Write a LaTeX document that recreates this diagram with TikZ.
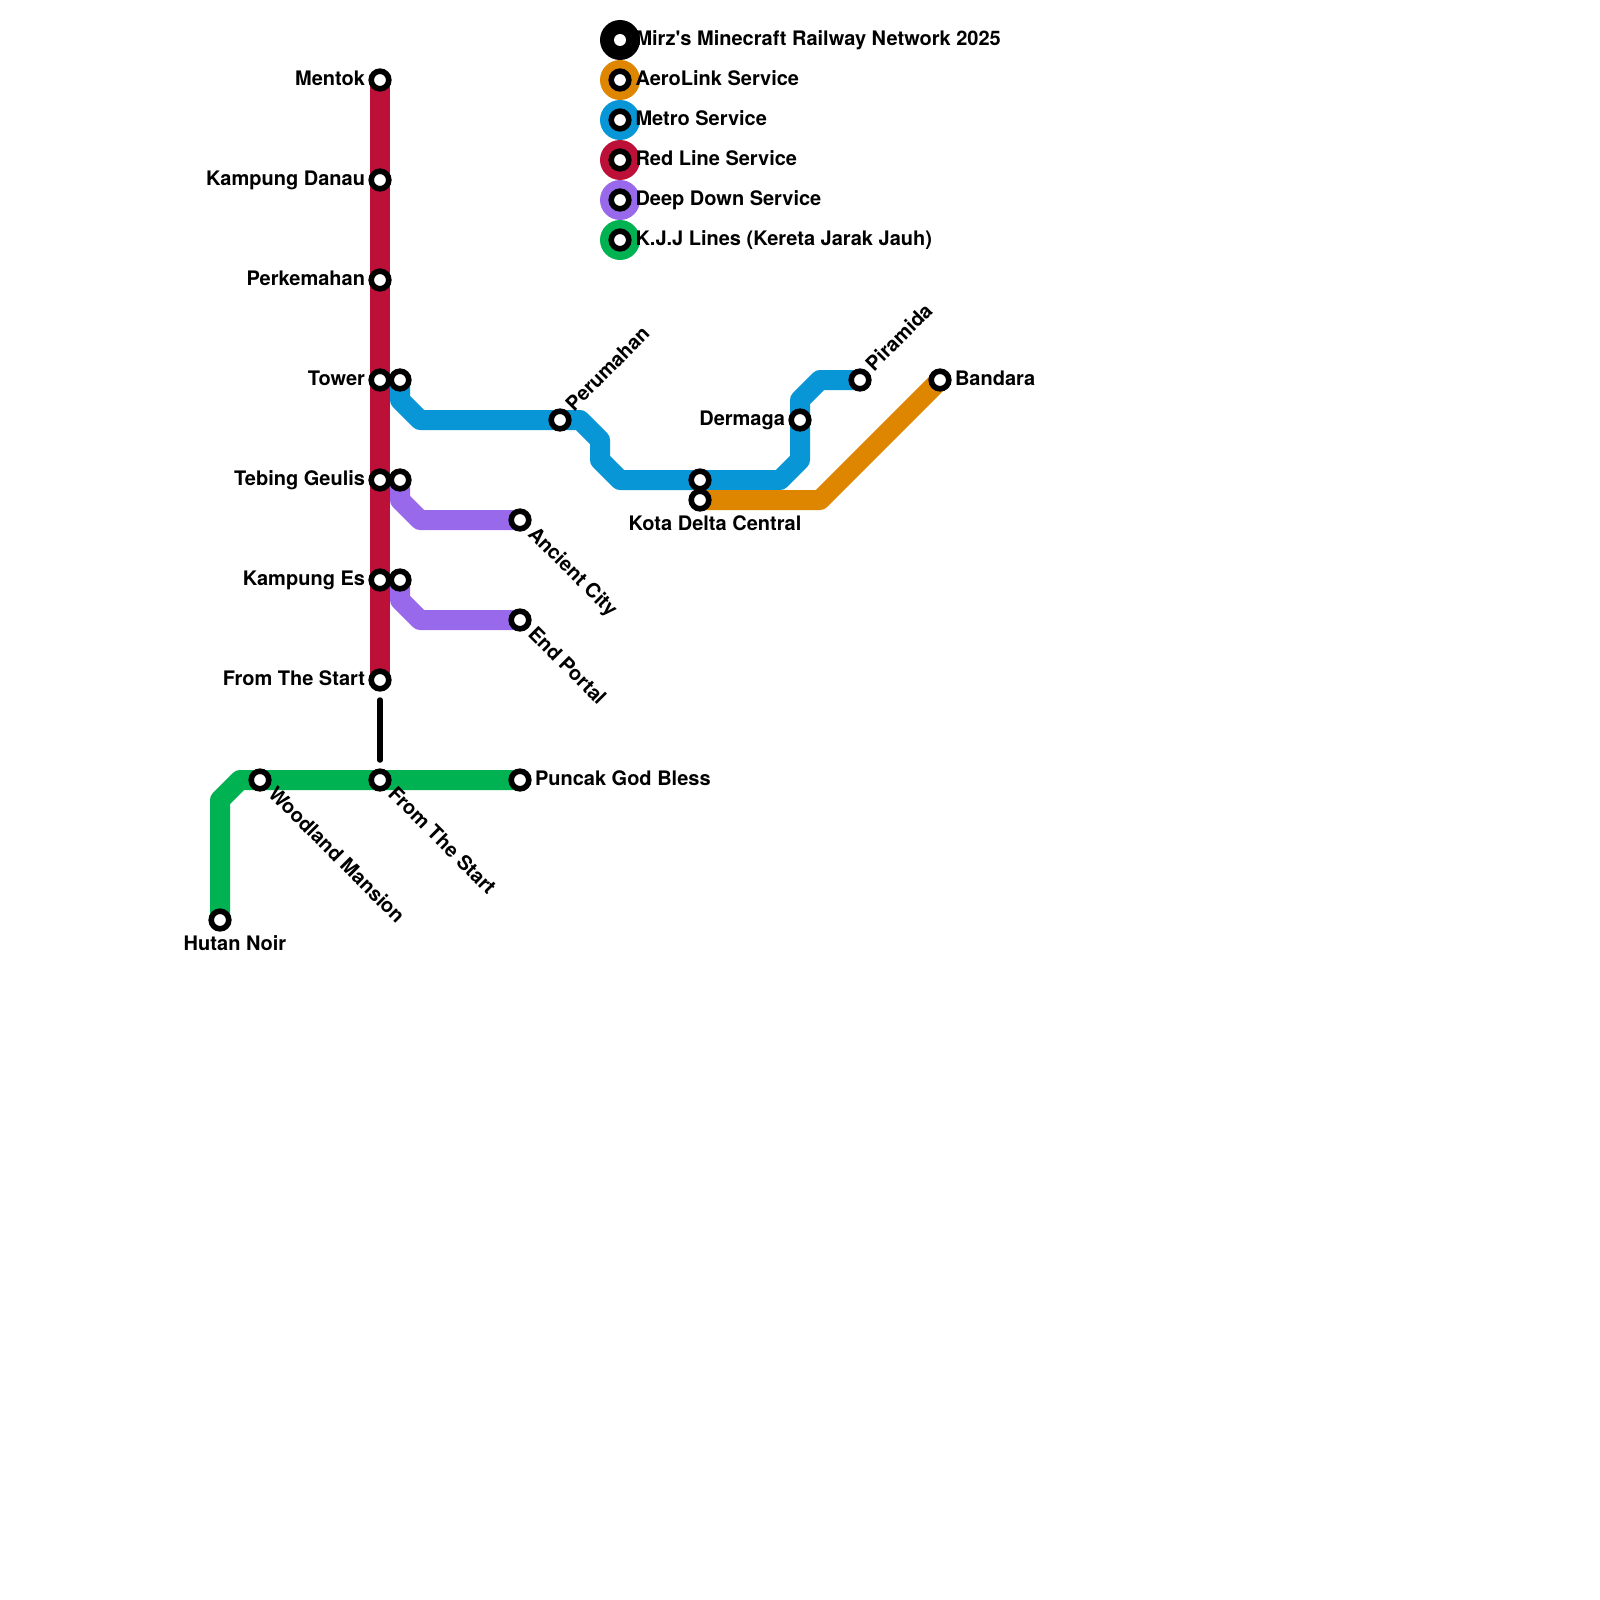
\documentclass[tikz,border=0pt]{standalone}
\usepackage{fontspec}
\newfontfamily\hv{TeX Gyre Heros}
\usetikzlibrary{backgrounds}
\definecolor{cred}{HTML}{BD1038}
\definecolor{cblue}{HTML}{0896D7}
\definecolor{corange}{HTML}{DF8600}
\definecolor{cgreen}{HTML}{00B251}
\definecolor{cpurple}{HTML}{9969EB}
\tikzset{
 x=1pt,y=-1pt,
 station/.style={circle,draw=black,fill=white,line width=5.6pt,minimum size=17.6pt,inner sep=0pt,outer sep=0pt},
 disc/.style={circle,fill=#1,minimum size=40pt,inner sep=0pt,outer sep=0pt},
 hub/.style={circle,fill=white,minimum size=12pt,inner sep=0pt,outer sep=0pt},
 lbl/.style={font=\hv\fontsize{20}{22}\selectfont\bfseries,inner sep=0pt,outer sep=0pt,text=black},
 llbl/.style={lbl,anchor=base east},
 rlbl/.style={lbl,anchor=base west},
 clbl/.style={lbl,anchor=base},
 uplbl/.style={lbl,anchor=base west,rotate=45},
 dnlbl/.style={lbl,anchor=base west,rotate=-45},
 route/.style={draw=#1,line width=20pt,line join=round},
 walk/.style={draw=black,line width=5.5pt,line cap=round},
}
\begin{document}
\begin{tikzpicture}
\useasboundingbox (0,0) rectangle (1600,1600);
% stations
\foreach \n/\yy in {men/80,dan/180,per/280,tow/380,teb/480,es/580,fts/680,ftb/780}
  \node[station] (\n) at (380,\yy) {};
\node[station] (tow2) at (400,380) {};
\node[station] (teb2) at (400,480) {};
\node[station] (es2) at (400,580) {};
\node[station] (anc) at (520,520) {};
\node[station] (end) at (520,620) {};
\node[station] (hut) at (220,920) {};
\node[station] (woo) at (260,780) {};
\node[station] (pun) at (520,780) {};
\node[station] (pru) at (560,420) {};
\node[station] (kot1) at (700,480) {};
\node[station] (kot2) at (700,500) {};
\node[station] (der) at (800,420) {};
\node[station] (pir) at (860,380) {};
\node[station] (ban) at (940,380) {};
% legend
\node[disc=black] (l0) at (620,40) {};
\node[hub] (l0h) at (620,40) {};
\node[disc=corange] (l1) at (620,80) {};
\node[station] (l1s) at (620,80) {};
\node[disc=cblue] (l2) at (620,120) {};
\node[station] (l2s) at (620,120) {};
\node[disc=cred] (l3) at (620,160) {};
\node[station] (l3s) at (620,160) {};
\node[disc=cpurple] (l4) at (620,200) {};
\node[station] (l4s) at (620,200) {};
\node[disc=cgreen] (l5) at (620,240) {};
\node[station] (l5s) at (620,240) {};
% routes
\begin{scope}[on background layer]
\fill[white] (0,0) rectangle (1600,1600);
\draw[route=cblue] (tow2.center) -- ++(0,20) -- ++(20,20) -- ++(160,0) -- ++(20,20) -- ++(0,20) -- ++(20,20) -- ++(160,0) -- ++(20,-20) -- ++(0,-60) -- ++(20,-20) -- (pir.center);
\draw[route=corange] (kot2.center) -- ++(120,0) -- (ban.center);
\draw[route=cpurple] (teb2.center) -- ++(0,20) -- ++(20,20) -- (anc.center);
\draw[route=cpurple] (es2.center) -- ++(0,20) -- ++(20,20) -- (end.center);
\draw[route=cred] (men.center) -- (fts.center);
\draw[route=cgreen] (hut.center) -- ++(0,-120) -- ++(20,-20) -- (pun.center);
\end{scope}
\coordinate (wa) at (380,700);
\coordinate (wb) at (380,760);
\draw[walk] (wa) -- (wb);
% labels
\node[llbl] (tmen) at (365,85.6) {Mentok};
\node[llbl] (tdan) at (365,185.6) {Kampung Danau};
\node[llbl] (tper) at (365,285.6) {Perkemahan};
\node[llbl] (ttow) at (365,385.6) {Tower};
\node[llbl] (tteb) at (365,485.6) {Tebing Geulis};
\node[llbl] (tes) at (365,585.6) {Kampung Es};
\node[llbl] (tfts) at (365,685.6) {From The Start};
\node[llbl] (tder) at (785,425.6) {Dermaga};
\node[rlbl] (tban) at (955,385.6) {Bandara};
\node[rlbl] (tpun) at (535,785.6) {Puncak God Bless};
\node[clbl] (that) at (235,950) {Hutan Noir};
\node[clbl] (tkot) at (715,530) {Kota Delta Central};
\node[uplbl] (tpru) at (574,412) {Perumahan};
\node[uplbl] (tpir) at (874,372) {Piramida};
\node[dnlbl] (tanc) at (527,535) {Ancient City};
\node[dnlbl] (tend) at (527,635) {End Portal};
\node[dnlbl] (twoo) at (267,795) {Woodland Mansion};
\node[dnlbl] (tftb) at (387,795) {From The Start};
\node[rlbl] (tl0) at (635.5,45.5) {Mirz's Minecraft Railway Network 2025};
\node[rlbl] (tl1) at (635.5,85.5) {AeroLink Service};
\node[rlbl] (tl2) at (635.5,125.5) {Metro Service};
\node[rlbl] (tl3) at (635.5,165.5) {Red Line Service};
\node[rlbl] (tl4) at (635.5,205.5) {Deep Down Service};
\node[rlbl] (tl5) at (635.5,245.5) {K.J.J Lines (Kereta Jarak Jauh)};
\end{tikzpicture}
\end{document}
